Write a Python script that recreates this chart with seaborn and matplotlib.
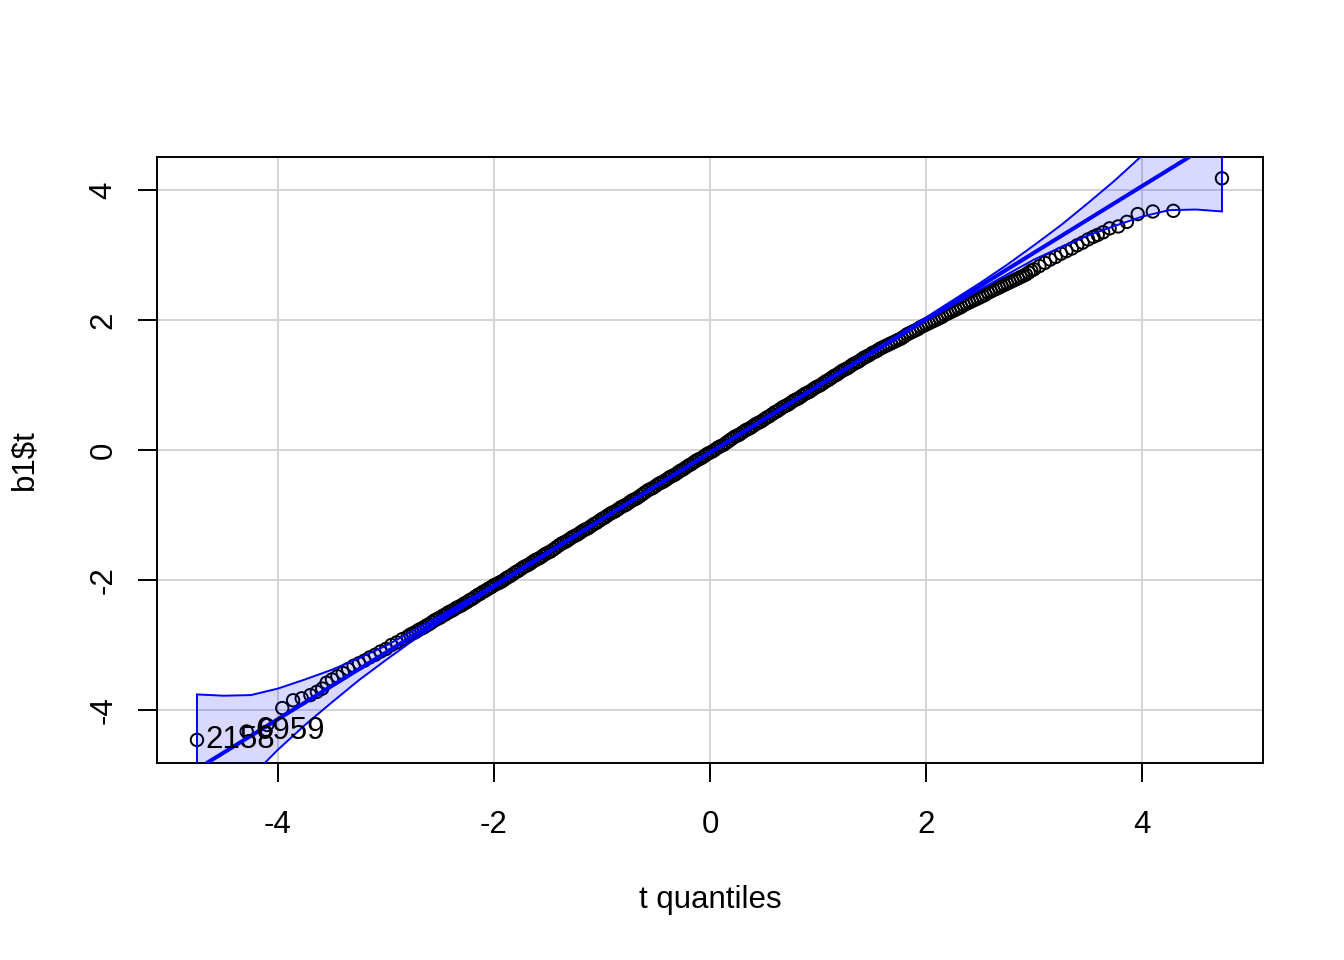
import numpy as np
import matplotlib
matplotlib.use("Agg")
import matplotlib.pyplot as plt
import seaborn as sns

low_q = [-4.75, -4.29, -4.10, -3.96, -3.86, -3.78, -3.70, -3.64, -3.59]
low_t = [-4.46, -4.33, -4.23, -3.97, -3.85, -3.82, -3.77, -3.72, -3.67]
high_q = [3.59, 3.64, 3.70, 3.78, 3.86, 3.96, 4.10, 4.29, 4.74]
high_t = [3.31, 3.35, 3.41, 3.44, 3.51, 3.63, 3.67, 3.68, 4.18]

# dense middle part of the sample
mid_q = [-3.55, -3.50, -3.45, -3.40, -3.35, -3.30, -3.25, -3.20, -3.15, -3.10,
         -3.05, -3.00, -2.95, -2.90, -2.85, -2.80, -2.75, -2.70, -2.65, -2.60,
         -2.55, -2.50, -2.45, -2.40, -2.35, -2.30, -2.25, -2.20, -2.15, -2.10,
         -2.05, -2.00, -1.95, -1.90, -1.85, -1.80, -1.75, -1.70, -1.65, -1.60,
         -1.55, -1.50, -1.45, -1.40, -1.35, -1.30, -1.25, -1.20, -1.15, -1.10,
         -1.05, -1.00, -0.95, -0.90, -0.85, -0.80, -0.75, -0.70, -0.65, -0.60,
         -0.55, -0.50, -0.45, -0.40, -0.35, -0.30, -0.25, -0.20, -0.15, -0.10,
         -0.05, 0.00, 0.05, 0.10, 0.15, 0.20, 0.25, 0.30, 0.35, 0.40,
         0.45, 0.50, 0.55, 0.60, 0.65, 0.70, 0.75, 0.80, 0.85, 0.90,
         0.95, 1.00, 1.05, 1.10, 1.15, 1.20, 1.25, 1.30, 1.35, 1.40,
         1.45, 1.50, 1.55, 1.60, 1.65, 1.70, 1.75, 1.80, 1.85, 1.90,
         1.95, 2.00, 2.05, 2.10, 2.15, 2.20, 2.25, 2.30, 2.35, 2.40,
         2.45, 2.50, 2.55, 2.60, 2.65, 2.70, 2.75, 2.80, 2.85, 2.90,
         2.95, 3.00, 3.05, 3.10, 3.15, 3.20, 3.25, 3.30, 3.35, 3.40,
         3.45, 3.50, 3.55]
mid_t = [-3.58, -3.53, -3.48, -3.43, -3.37, -3.32, -3.28, -3.24, -3.19, -3.15,
         -3.10, -3.06, -3.00, -2.96, -2.91, -2.87, -2.82, -2.77, -2.73, -2.68,
         -2.62, -2.58, -2.53, -2.48, -2.43, -2.39, -2.34, -2.29, -2.23, -2.18,
         -2.13, -2.08, -2.04, -1.99, -1.94, -1.88, -1.83, -1.78, -1.73, -1.68,
         -1.63, -1.58, -1.53, -1.47, -1.42, -1.37, -1.32, -1.27, -1.22, -1.17,
         -1.12, -1.06, -1.01, -0.96, -0.91, -0.86, -0.81, -0.76, -0.71, -0.65,
         -0.60, -0.55, -0.50, -0.45, -0.40, -0.35, -0.30, -0.24, -0.19, -0.14,
         -0.09, -0.04, 0.01, 0.06, 0.11, 0.17, 0.22, 0.27, 0.32, 0.37,
         0.42, 0.47, 0.52, 0.58, 0.63, 0.68, 0.73, 0.78, 0.83, 0.88,
         0.93, 0.98, 1.03, 1.08, 1.14, 1.19, 1.24, 1.29, 1.34, 1.39,
         1.44, 1.49, 1.53, 1.58, 1.62, 1.66, 1.70, 1.75, 1.80, 1.84,
         1.89, 1.93, 1.97, 2.01, 2.05, 2.10, 2.14, 2.18, 2.23, 2.27,
         2.31, 2.35, 2.39, 2.44, 2.48, 2.52, 2.56, 2.60, 2.64, 2.68,
         2.73, 2.78, 2.83, 2.88, 2.93, 2.97, 3.02, 3.06, 3.10, 3.15,
         3.19, 3.24, 3.28]

# further readings where the cloud is solid black
fine_q = [-2.775, -2.725, -2.675, -2.625, -2.575, -2.525, -2.475, -2.425, -2.375, -2.325,
          -2.275, -2.225, -2.175, -2.125, -2.075, -2.025, -1.975, -1.925, -1.875, -1.825,
          -1.775, -1.725, -1.675, -1.625, -1.575, -1.525, -1.475, -1.425, -1.375, -1.325,
          -1.275, -1.225, -1.175, -1.125, -1.075, -1.025, -0.975, -0.925, -0.875, -0.825,
          -0.775, -0.725, -0.675, -0.625, -0.575, -0.525, -0.475, -0.425, -0.375, -0.325,
          -0.275, -0.225, -0.175, -0.125, -0.075, -0.025, 0.025, 0.075, 0.125, 0.175,
          0.225, 0.275, 0.325, 0.375, 0.425, 0.475, 0.525, 0.575, 0.625, 0.675,
          0.725, 0.775, 0.825, 0.875, 0.925, 0.975, 1.025, 1.075, 1.125, 1.175,
          1.225, 1.275, 1.325, 1.375, 1.425, 1.475, 1.525, 1.575, 1.625, 1.675,
          1.725, 1.775, 1.825, 1.875, 1.925, 1.975, 2.025, 2.075, 2.125, 2.175,
          2.225, 2.275, 2.325, 2.375, 2.425, 2.475, 2.525, 2.575, 2.625, 2.675,
          2.725, 2.775, 2.825, 2.875, 2.925, 2.975]
fine_t = [-2.84, -2.80, -2.75, -2.70, -2.65, -2.60, -2.55, -2.50, -2.46, -2.41,
          -2.36, -2.31, -2.26, -2.21, -2.16, -2.11, -2.06, -2.02, -1.96, -1.91,
          -1.86, -1.80, -1.76, -1.70, -1.66, -1.60, -1.56, -1.50, -1.44, -1.40,
          -1.34, -1.30, -1.24, -1.20, -1.14, -1.09, -1.04, -0.98, -0.94, -0.88,
          -0.84, -0.78, -0.74, -0.68, -0.62, -0.58, -0.52, -0.48, -0.42, -0.38,
          -0.32, -0.27, -0.22, -0.16, -0.12, -0.06, -0.02, 0.04, 0.08, 0.14,
          0.20, 0.24, 0.30, 0.34, 0.40, 0.44, 0.50, 0.55, 0.60, 0.66,
          0.70, 0.76, 0.80, 0.86, 0.90, 0.96, 1.00, 1.06, 1.11, 1.16,
          1.22, 1.26, 1.32, 1.36, 1.42, 1.46, 1.51, 1.56, 1.60, 1.64,
          1.68, 1.72, 1.78, 1.82, 1.86, 1.91, 1.95, 1.99, 2.03, 2.08,
          2.12, 2.16, 2.20, 2.25, 2.29, 2.33, 2.37, 2.42, 2.46, 2.50,
          2.54, 2.58, 2.62, 2.66, 2.70, 2.76]

# robust reference line
line_intercept = -0.04
line_slope = 1.025

# pointwise confidence envelope
band_x = [-4.75, -4.50, -4.25, -4.00, -3.75, -3.50, -3.25, -3.00, -2.75, -2.50,
          -2.00, -1.00, 0.00, 1.00, 2.00, 2.50, 2.75, 3.00, 3.25, 3.50,
          3.75, 4.00, 4.25, 4.50, 4.74]
band_lo = [-6.06, -5.52, -5.03, -4.61, -4.23, -3.88, -3.54, -3.23, -2.93, -2.65,
           -2.12, -1.08, -0.05, 0.97, 1.99, 2.47, 2.70, 2.93, 3.12, 3.30,
           3.45, 3.59, 3.69, 3.70, 3.67]
band_hi = [-3.76, -3.78, -3.77, -3.67, -3.53, -3.38, -3.20, -3.01, -2.78, -2.55,
           -2.07, -1.05, -0.03, 1.00, 2.04, 2.57, 2.85, 3.15, 3.46, 3.80,
           4.15, 4.53, 4.95, 5.44, 5.97]

# labelled extreme observations
id_labels = ["2158", "6959"]
id_q = [-4.75, -4.29]
id_t = [-4.46, -4.33]

ticks = [-4, -2, 0, 2, 4]

sns.set_style("white")
plt.rcParams['font.family'] = ['Liberation Sans', 'DejaVu Sans']

fig = plt.figure(figsize=(13.44, 9.6), dpi=100)
ax = fig.add_axes([157 / 1344, 1 - 763 / 960, 1106 / 1344, 606 / 960])

q_all = low_q + mid_q + fine_q + high_q
t_all = low_t + mid_t + fine_t + high_t
sns.scatterplot(x=q_all, y=t_all, ax=ax, marker='o', facecolor='none', edgecolor='black',
                s=80, linewidth=1.4, zorder=3, legend=False)

# envelope polygon (fill + border)
poly_x = band_x + band_x[::-1]
poly_y = band_hi + band_lo[::-1]
ax.fill(poly_x, poly_y, facecolor=(0, 0, 1, 0.15), edgecolor='blue', lw=1.4, zorder=4)
ax.axline((0, line_intercept), slope=line_slope, color='blue', lw=2.9, zorder=5)

for lab, qx, ty in zip(id_labels, id_q, id_t):
    ax.annotate(lab, (qx, ty), xytext=(6, 0), textcoords='offset points',
                ha='left', va='center', fontsize=22.5, color='black', zorder=6)

ax.set_xlim(-5.12, 5.12)
ax.set_ylim(-4.815, 4.508)
ax.set_xticks(ticks)
ax.set_yticks(ticks)
ax.set_xticklabels([str(t) for t in ticks])
ax.set_yticklabels([str(t) for t in ticks])
ax.grid(True, color='#d3d3d3', lw=1.4)
ax.set_axisbelow(True)
for sp in ax.spines.values():
    sp.set_color('black')
    sp.set_linewidth(1.4)
ax.tick_params(axis='both', direction='out', length=13.7, width=1.4, color='black',
               labelsize=22.5, labelcolor='black', bottom=True, left=True)
ax.tick_params(axis='x', pad=20)
ax.tick_params(axis='y', pad=14, labelrotation=90)
for lbl in ax.get_yticklabels():
    lbl.set_va('center')

ax.set_xlabel('t quantiles', fontsize=22.5, color='black')
ax.set_ylabel('b1$t', fontsize=22.5, color='black')
ax.xaxis.label.set_va('center')
ax.yaxis.label.set_va('center')
ax.xaxis.set_label_coords(0.5, (763 - 900) / 606)
ax.yaxis.set_label_coords((24 - 157) / 1106, 0.5)

fig.savefig('out.png', dpi=100, facecolor='white')
